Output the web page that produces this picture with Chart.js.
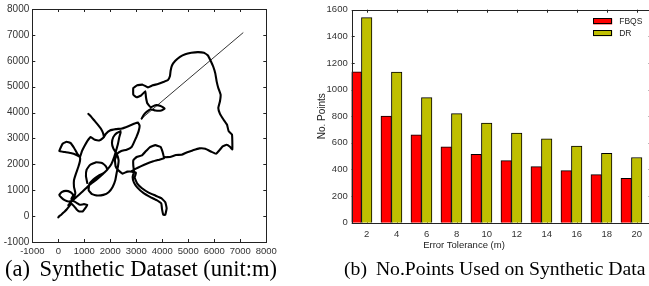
<!DOCTYPE html>
<html><head><meta charset="utf-8">
<script src="https://cdn.jsdelivr.net/npm/chart.js@4.4.0/dist/chart.umd.min.js"></script>
<style>
html,body{margin:0;padding:0;background:#fff;overflow:hidden;width:649px;height:286px;}
#wrapA{position:absolute;left:0;top:0;width:300px;height:286px;}
#wrapB{position:absolute;left:310px;top:0;width:360px;height:286px;}
canvas{display:block;}
.cap{position:absolute;font-family:"Liberation Serif","Times New Roman",serif;color:#000;white-space:nowrap;line-height:1;}
#capA{left:5px;top:258px;font-size:22.5px;}
#capB{left:344px;top:259px;font-size:19.7px;}
.pfx{padding-right:4px;}
#xtitleB{position:absolute;font-family:"Liberation Sans",Arial,sans-serif;font-size:9.5px;color:#222;left:464px;top:240px;transform:translateX(-50%);white-space:nowrap;line-height:1;}
</style></head><body>
<div id="wrapA"><canvas id="cA" width="300" height="286" style="width:300px;height:286px"></canvas></div>
<div id="wrapB"><canvas id="cB" width="360" height="286" style="width:360px;height:286px"></canvas></div>
<div id="xtitleB">Error Tolerance (m)</div>
<div class="cap" id="capA"><span class="pfx">(a)</span> Synthetic Dataset (unit:m)</div>
<div class="cap" id="capB"><span class="pfx">(b)</span> No.Points Used on Synthetic Data</div>
<script>
// ---------- Panel (a): synthetic trajectory (metres), null = break between traced strokes
const ticksA = [-1000,0,1000,2000,3000,4000,5000,6000,7000,8000];
const trajX = [
  0,38,115,218,321,423,500,603,705,808,936,1038,1115,987,833,705,551,385,244,115,38,128,295,474,577,500,603,654,603,603,679,769,833,833,
  731,603,474,321,167,38,256,474,679,833,910,1013,1115,1244,1410,1577,1731,1833,1987,2218,2449,2692,2910,3064,3128,3090,3013,2910,2820,2628,2423,2269,2179,2205,2308,2474,2654,2833,2987,
  2936,3038,3218,3474,3731,3961,4115,4167,4115,4038,3987,3961,3782,3526,3269,3051,2910,2859,2910,
  2885,2885,3013,3218,3372,3526,3731,3936,4013,4064,
  4295,4525,4743,4936,5166,5423,5654,5884,6064,6192,6320,6474,6602,6692,6692,6679,6551,6487,6346,6218,6154,6218,6243,6154,6090,6038,5961,5859,5756,5602,5372,5115,4884,4679,4500,4372,4320,4295,4218,4038,3833,3628,3449,
  3243,3038,2885,2885,3013,3192,3346,3372,3423,3551,3731,3936,4090,3961,3731,3551,3397,3295,3205,
  null,
  4064,3884,3654,3397,3167,2987,2833,
  null,
  385,551,731,936,1115,1295,1500,1705,1885,2038,2141,2218,2295,2346,2397,
  null,
  1115,1064,1090,1218,1449,1679,1833,1885,1756,1551,1346,1192,1167,1295,1500,1731,1936,2090,2192,2244,2295,2320,2244,2115,2064,2115,2244,2397,
  null,
  1154,1269,1397,1526,1641,1731,1756
];
const trajY = [
  -50,0,51,154,256,385,487,385,256,179,179,308,436,462,436,513,590,564,615,718,821,923,974,923,821,667,744,897,1128,1385,1641,1897,2128,2282,
  2410,2641,2820,2872,2795,2513,2474,2436,2372,2282,2513,2718,2897,3051,2949,2923,3026,3179,3308,3359,3384,3474,3564,3615,3487,3282,3077,2846,2667,2564,2513,2410,2179,1923,1769,1641,1718,1718,1667,
  1487,1256,1077,910,795,692,538,308,51,51,282,487,615,744,897,1090,1295,1513,1718,
  1949,2154,2282,2346,2513,2667,2743,2667,2474,2282,
  2282,2359,2372,2461,2538,2615,2602,2487,2410,2538,2692,2756,2679,2577,2923,3154,3282,3538,3743,3949,4179,4436,4692,4949,5205,5513,5769,6000,6205,6307,6333,6307,6256,6154,6000,5820,5615,5410,5256,5179,5102,5051,4974,
  5077,5051,4949,4692,4590,4666,4820,4590,4359,4205,4282,4256,4154,4077,4077,4128,4025,3923,3769,
  null,
  2231,2179,2115,2026,1923,1833,1744,
  null,
  423,615,769,949,1128,1282,1436,1615,1795,2000,2256,2513,2795,3051,3231,
  null,
  1282,1538,1795,1974,2077,2051,1923,1795,1667,1564,1410,1231,1000,846,795,820,923,1128,1385,1667,1923,2154,2410,2615,2820,3051,3205,3282,
  null,
  3949,3833,3679,3526,3372,3179,3051
];
const tailX = [3205, 7115];
const tailY = [3769, 7090];

// ---------- Panel (b): number of points vs error tolerance
const tolerances = [2,4,6,8,10,12,14,16,18,20];
const fbqs = [1134, 801, 660, 570, 513, 466, 421, 391, 361, 334];
const dr   = [1540, 1132, 940, 819, 749, 674, 630, 575, 522, 490];
const ticksB = [0,200,400,600,800,1000,1200,1400,1600];

const frameTicks = {
  id: 'frameTicks',
  beforeDatasetsDraw(chart, args, o) {
    const {ctx, chartArea: a} = chart;
    ctx.save();
    ctx.strokeStyle = o.color; ctx.lineWidth = 1;
    ctx.beginPath();
    (o.xScales || []).forEach(id => {
      const s = chart.scales[id];
      s.ticks.forEach(t => {
        const p = Math.round(s.getPixelForValue(t.value)) + 0.5;
        ctx.moveTo(p, a.bottom); ctx.lineTo(p, a.bottom - o.len);
        ctx.moveTo(p, a.top); ctx.lineTo(p, a.top + o.len);
      });
    });
    (o.yScales || []).forEach(id => {
      const s = chart.scales[id];
      s.ticks.forEach(t => {
        const p = Math.round(s.getPixelForValue(t.value)) + 0.5;
        ctx.moveTo(a.left, p); ctx.lineTo(a.left + o.len, p);
        ctx.moveTo(a.right, p); ctx.lineTo(a.right - o.len, p);
      });
    });
    ctx.stroke();
    ctx.restore();
  },
  afterDraw(chart, args, o) {
    const {ctx, chartArea: a} = chart;
    ctx.save();
    ctx.strokeStyle = o.color; ctx.lineWidth = 1;
    const l = Math.round(a.left) + 0.5, t = Math.round(a.top) + 0.5;
    const r = Math.round(a.right) + 0.5, b = Math.round(a.bottom) + 0.5;
    ctx.strokeRect(l, t, r - l, b - t);
    ctx.restore();
  }
};

const boxLegend = {
  id: 'boxLegend',
  afterDraw(chart, args, o) {
    if (!o.show) return;
    const {ctx, chartArea: a} = chart;
    ctx.save();
    ctx.font = o.font;
    ctx.textBaseline = 'middle';
    ctx.textAlign = 'left';
    chart.data.datasets.forEach((ds, i) => {
      const cy = a.top + o.top + i * o.gap;
      const x = a.left + o.left;
      ctx.fillStyle = ds.backgroundColor;
      ctx.fillRect(x, cy - o.h / 2, o.w, o.h);
      ctx.strokeStyle = '#000'; ctx.lineWidth = 1;
      ctx.strokeRect(Math.round(x) + 0.5, Math.round(cy - o.h / 2) + 0.5, o.w - 1, o.h - 1);
      ctx.fillStyle = o.color;
      ctx.fillText(ds.label, x + o.w + o.pad, cy);
    });
    ctx.restore();
  }
};

Chart.register(frameTicks, boxLegend);

const tickFont = {family: '"Liberation Sans", Arial, sans-serif', size: 9.5};
const plain = v => String(v);

new Chart(document.getElementById('cA'), {
  type: 'scatter',
  data: {
    datasets: [
      {
        label: 'Trajectory',
        data: trajX.map((x, i) => ({x: x, y: trajY[i]})),
        showLine: true, borderColor: '#000', backgroundColor: '#000',
        borderWidth: 2.1, pointRadius: 0, tension: 0.1, spanGaps: false,
        borderJoinStyle: 'round', borderCapStyle: 'round'
      },
      {
        label: 'Tail',
        data: tailX.map((x, i) => ({x: x, y: tailY[i]})),
        showLine: true, borderColor: '#000', borderWidth: 0.8, pointRadius: 0
      }
    ]
  },
  options: {
    responsive: false, animation: false, devicePixelRatio: 1,
    layout: {padding: {left: 0, top: 8.3, right: 33.7, bottom: 0}},
    plugins: {
      legend: {display: false}, tooltip: {enabled: false},
      frameTicks: {color: '#222', len: 3, xScales: ['x'], yScales: ['y']},
      boxLegend: {show: false}
    },
    scales: {
      x: {
        type: 'linear', min: -1000, max: 8000,
        afterBuildTicks: s => { s.ticks = ticksA.map(v => ({value: v})); },
        afterFit: s => { s.height = 44; },
        grid: {display: false, drawTicks: false}, border: {display: false},
        ticks: {autoSkip: false, maxRotation: 0, font: tickFont, color: '#333', padding: 4, callback: plain}
      },
      y: {
        type: 'linear', min: -1000, max: 8000,
        afterBuildTicks: s => { s.ticks = ticksA.map(v => ({value: v})); },
        afterFit: s => { s.width = 32.3; },
        grid: {display: false, drawTicks: false}, border: {display: false},
        ticks: {autoSkip: false, font: {family: tickFont.family, size: 10}, color: '#333', padding: 3, callback: plain}
      }
    }
  }
});

new Chart(document.getElementById('cB'), {
  type: 'bar',
  data: {
    datasets: [
      {
        label: 'FBQS', xAxisID: 'xf', yAxisID: 'y',
        data: tolerances.map((t, i) => ({x: t, y: fbqs[i]})),
        backgroundColor: '#ff0000', borderColor: '#000', borderWidth: 1,
        borderSkipped: 'bottom', barThickness: 10.5, grouped: false
      },
      {
        label: 'DR', xAxisID: 'x', yAxisID: 'y',
        data: tolerances.map((t, i) => ({x: t, y: dr[i]})),
        backgroundColor: '#bfbf00', borderColor: '#000', borderWidth: 1,
        borderSkipped: 'bottom', barThickness: 10.5, grouped: false
      }
    ]
  },
  options: {
    responsive: false, animation: false, devicePixelRatio: 1,
    layout: {padding: {left: 0, top: 8.3, right: 18.3, bottom: 0}},
    plugins: {
      legend: {display: false}, tooltip: {enabled: false},
      frameTicks: {color: '#222', len: 3, xScales: ['x'], yScales: ['y']},
      boxLegend: {show: true, left: 241.5, top: 11.7, gap: 11.8, w: 19, h: 6, pad: 7,
                  font: '8.5px "Liberation Sans", Arial, sans-serif', color: '#222'}
    },
    scales: {
      x: {
        type: 'linear', min: 1, max: 21, offset: false,
        afterBuildTicks: s => { s.ticks = tolerances.map(v => ({value: v})); },
        afterFit: s => { s.height = 63.3; },
        grid: {display: false, drawTicks: false, offset: false}, border: {display: false},
        ticks: {autoSkip: false, maxRotation: 0, font: tickFont, color: '#333', padding: 6, callback: plain}
      },
      xf: {
        type: 'linear', min: 1.7, max: 21.7, offset: false, display: false,
        grid: {offset: false}
      },
      y: {
        type: 'linear', min: 0, max: 1600,
        afterBuildTicks: s => { s.ticks = ticksB.map(v => ({value: v})); },
        afterFit: s => { s.width = 41.7; },
        grid: {display: false, drawTicks: false}, border: {display: false},
        ticks: {autoSkip: false, font: tickFont, color: '#333', padding: 4, callback: plain},
        title: {display: true, text: 'No. Points', font: {family: tickFont.family, size: 10}, color: '#222', padding: {top: 6, bottom: 0}}
      }
    }
  }
});
</script>
</body></html>
